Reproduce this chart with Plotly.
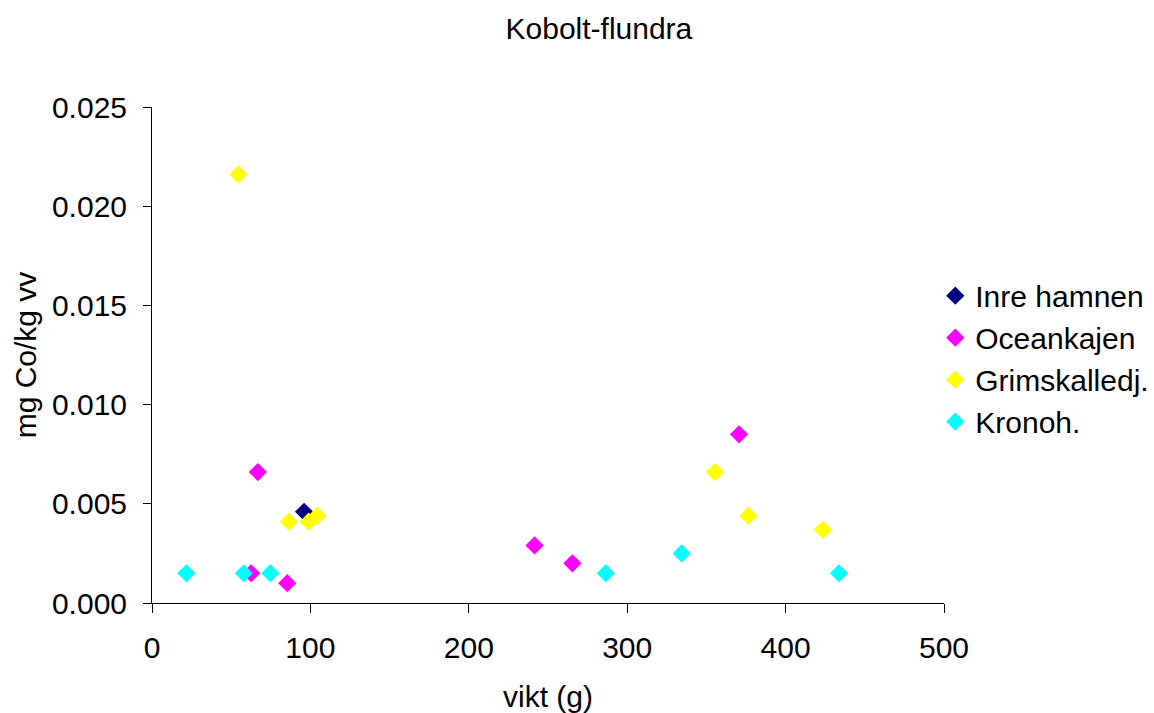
import plotly.graph_objects as go

# Data (vikt in g, mg Co/kg vv)
inre_x = [96]
inre_y = [0.0046]

ocean_x = [62.6, 66.8, 85.4, 241.5, 265.4, 370.6]
ocean_y = [0.0015, 0.0066, 0.0010, 0.0029, 0.0020, 0.0085]

grim_x = [54.6, 86.5, 98.9, 104.4, 355.5, 376.6, 423.6]
grim_y = [0.0216, 0.0041, 0.0041, 0.0044, 0.0066, 0.0044, 0.0037]

krono_x = [21.7, 58.0, 74.7, 286.5, 334.4, 433.7]
krono_y = [0.0015, 0.0015, 0.0015, 0.0015, 0.0025, 0.0015]

series = [
    ("Inre hamnen", inre_x, inre_y, "#000080"),
    ("Oceankajen", ocean_x, ocean_y, "#FF00FF"),
    ("Grimskalledj.", grim_x, grim_y, "#FFFF00"),
    ("Kronoh.", krono_x, krono_y, "#00FFFF"),
]

FONT = "Liberation Sans, Arial, sans-serif"
FS = 30

fig = go.Figure()
for name, xs, ys, col in series:
    fig.add_trace(go.Scatter(
        x=xs, y=ys, mode="markers", name=name,
        marker=dict(symbol="diamond", size=14, color=col, line=dict(width=0)),
    ))

fig.update_layout(
    width=1154, height=713,
    margin=dict(l=152, r=210, t=107, b=110, autoexpand=False),
    paper_bgcolor="white", plot_bgcolor="white",
    font=dict(family=FONT, size=FS, color="black"),
    title=dict(text="Kobolt-flundra", x=0.519, xref="container", y=1 - 28/713,
               yref="container", xanchor="center", yanchor="middle",
               font=dict(size=FS, family=FONT, color="black")),
    showlegend=True,
    legend=dict(x=0.989, y=0.672, xanchor="left", yanchor="top",
                font=dict(size=FS, family=FONT), bgcolor="rgba(0,0,0,0)",
                itemsizing="trace"),
)

fig.update_xaxes(
    range=[0, 500], tickvals=[0, 100, 200, 300, 400, 500],
    showline=True, linecolor="black", linewidth=1, mirror=False,
    ticks="outside", ticklen=9, tickcolor="black", tickwidth=1,
    showgrid=False, zeroline=False,
    ticklabelstandoff=9,
    title=dict(text="vikt (g)", standoff=23, font=dict(size=FS, family=FONT)),
)
fig.update_yaxes(
    range=[0, 0.025], tickvals=[0, 0.005, 0.010, 0.015, 0.020, 0.025],
    tickformat=".3f",
    showline=True, linecolor="black", linewidth=1, mirror=False,
    ticks="outside", ticklen=8, tickcolor="black", tickwidth=1,
    showgrid=False, zeroline=False,
    ticklabelstandoff=10,
    title=dict(text="mg Co/kg vv", standoff=6, font=dict(size=FS, family=FONT)),
)

fig.write_html("out.html")
